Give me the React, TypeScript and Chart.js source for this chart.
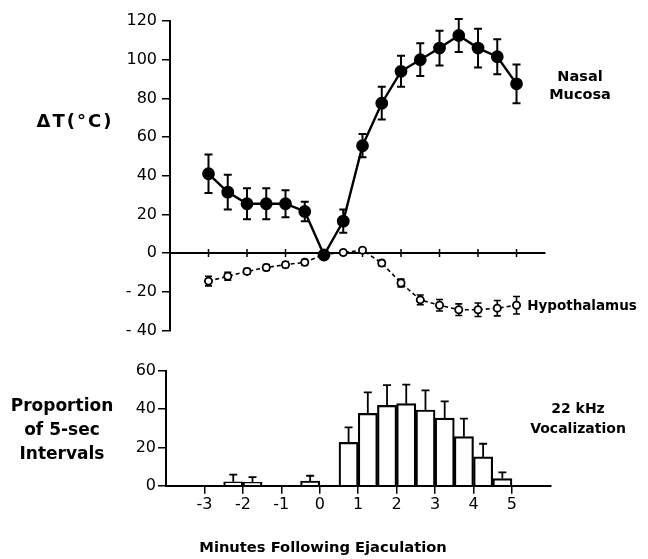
import React, { useEffect, useRef } from 'react';
import { Chart, registerables } from 'chart.js';

Chart.register(...registerables);

// ---------- data ----------
const TIMES = [-3, -2.5, -2, -1.5, -1, -0.5, 0, 0.5, 1, 1.5, 2, 2.5, 3, 3.5, 4, 4.5, 5];
const NASAL = [41, 31.5, 25.5, 25.5, 25.5, 21.5, -1, 16.5, 55.5, 77.5, 94, 100, 106, 112.5, 106, 101.5, 87.5];
const NASAL_ERR = [10, 9, 8, 8, 7, 5, 0, 6, 6, 8.5, 8, 8.5, 9, 8.5, 10, 9, 10];
const HYPO = [-14.5, -12, -9.5, -7.5, -6, -4.8, -0.7, 0.3, 1.5, -5.2, -15.5, -24.2, -27, -29.3, -29.3, -28.5, -27];
const HYPO_ERR = [2.5, 2, 1.5, 1.5, 1.5, 1.5, 1, 1, 1, 1.5, 2, 2.5, 3, 3, 3.5, 4, 4.5];
const BIN_END = [-2, -1.5, 0, 1, 1.5, 2, 2.5, 3, 3.5, 4, 4.5, 5];
const VOCAL = [2, 1.7, 2.4, 22.6, 37.7, 41.9, 42.8, 39.5, 35.3, 25.6, 15, 3.7];
const VOCAL_ERR = [3.8, 2.8, 2.8, 7.8, 11, 10.6, 9.9, 10.2, 8.7, 9.4, 6.9, 3.3];
const X_TICKS = [-3, -2, -1, 0, 1, 2, 3, 4, 5];
const BIN_WIDTH = 0.5;

const FONT = 'DejaVu Sans';

// ---------- plugins ----------
const errorBars = {
  id: 'errorBars',
  beforeDatasetsDraw(chart: any) {
    const ctx = chart.ctx;
    chart.data.datasets.forEach((ds: any, i: number) => {
      const errs = ds.errors;
      if (!errs) return;
      const meta = chart.getDatasetMeta(i);
      const xs = chart.scales[meta.xAxisID];
      const ys = chart.scales[meta.yAxisID];
      ctx.save();
      ctx.strokeStyle = '#000';
      ctx.lineWidth = ds.errLineWidth || 1.8;
      const cap = ds.capHalf || 4;
      ds.data.forEach((p: any, j: number) => {
        const e = errs[j];
        if (!e) return;
        const x = xs.getPixelForValue(p.x);
        const yTop = ys.getPixelForValue(p.y + e);
        const yBot = ys.getPixelForValue(ds.oneSided ? p.y : p.y - e);
        ctx.beginPath();
        ctx.moveTo(x, yTop);
        ctx.lineTo(x, yBot);
        ctx.moveTo(x - cap, yTop);
        ctx.lineTo(x + cap, yTop);
        if (!ds.oneSided) {
          ctx.moveTo(x - cap, yBot);
          ctx.lineTo(x + cap, yBot);
        }
        ctx.stroke();
      });
      ctx.restore();
    });
  },
};

const zeroAxis = {
  id: 'zeroAxis',
  beforeDatasetsDraw(chart: any) {
    const { ctx, chartArea, scales } = chart;
    const xs = scales.x;
    const ys = scales.y;
    const y0 = ys.getPixelForValue(0);
    ctx.save();
    ctx.strokeStyle = '#000';
    ctx.lineWidth = 2;
    ctx.beginPath();
    ctx.moveTo(chartArea.left, y0);
    ctx.lineTo(chartArea.right, y0);
    ctx.stroke();
    ctx.lineWidth = 1.5;
    ctx.beginPath();
    X_TICKS.forEach((v) => {
      const px = xs.getPixelForValue(v);
      ctx.moveTo(px, y0 - 4);
      ctx.lineTo(px, y0 + 4);
    });
    ctx.stroke();
    ctx.restore();
  },
};

const Label = ({ x, y, children, style }: any) => (
  <div
    style={{
      position: 'absolute',
      left: x,
      top: y,
      transform: 'translate(-50%, -50%)',
      whiteSpace: 'nowrap',
      textAlign: 'center',
      fontFamily: FONT,
      color: '#000',
      ...style,
    }}
  >
    {children}
  </div>
);

export default function App() {
  const topRef = useRef<HTMLCanvasElement>(null);
  const botRef = useRef<HTMLCanvasElement>(null);

  useEffect(() => {
    Chart.defaults.font.family = FONT;
    Chart.defaults.color = '#000';

    const top = new Chart(topRef.current as HTMLCanvasElement, {
      type: 'line',
      data: {
        datasets: [
          {
            label: 'Nasal Mucosa',
            data: TIMES.map((t, i) => ({ x: t, y: NASAL[i] })),
            borderColor: '#000',
            borderWidth: 2.4,
            backgroundColor: '#000',
            pointRadius: 5.2,
            pointBackgroundColor: '#000',
            pointBorderColor: '#000',
            tension: 0,
            clip: false,
            errors: NASAL_ERR,
            capHalf: 4,
            errLineWidth: 2,
          } as any,
          {
            label: 'Hypothalamus',
            data: TIMES.map((t, i) => ({ x: t, y: HYPO[i] })),
            borderColor: '#000',
            borderWidth: 1.6,
            borderDash: [4, 3],
            pointRadius: 3.6,
            pointBorderWidth: 1.8,
            pointBackgroundColor: '#fff',
            pointBorderColor: '#000',
            tension: 0,
            clip: false,
            errors: HYPO_ERR,
            capHalf: 3.5,
            errLineWidth: 1.6,
          } as any,
        ],
      },
      options: {
        animation: false,
        responsive: false,
        events: [],
        layout: { padding: { top: 21, bottom: 13.3, left: 0, right: 102.6 } },
        plugins: { legend: { display: false }, tooltip: { enabled: false } },
        scales: {
          x: { type: 'linear', min: -4, max: 5.75, display: false },
          y: {
            type: 'linear',
            min: -40,
            max: 120,
            afterFit: (s: any) => {
              s.width = 170;
            },
            ticks: {
              stepSize: 20,
              font: { size: 16, family: FONT },
              color: '#000',
              padding: 5,
              callback: (v: any) => (Number(v) < 0 ? '- ' + String(-Number(v)) : String(v)),
            },
            grid: { drawOnChartArea: false, drawTicks: true, tickLength: 8, color: '#000', lineWidth: 1.5 },
            border: { display: true, color: '#000', width: 2 },
          },
        },
      },
      plugins: [zeroAxis, errorBars],
    });

    const bot = new Chart(botRef.current as HTMLCanvasElement, {
      type: 'bar',
      data: {
        datasets: [
          {
            label: '22 kHz Vocalization',
            data: BIN_END.map((t, i) => ({ x: t - BIN_WIDTH / 2, y: VOCAL[i] })),
            backgroundColor: '#fff',
            borderColor: '#000',
            borderWidth: 2.2,
            barPercentage: 1,
            categoryPercentage: 1,
            errors: VOCAL_ERR,
            oneSided: true,
            capHalf: 4,
            errLineWidth: 1.8,
          } as any,
        ],
      },
      options: {
        animation: false,
        responsive: false,
        events: [],
        layout: { padding: { top: 25.7, bottom: 0, left: 0, right: 97.6 } },
        plugins: { legend: { display: false }, tooltip: { enabled: false } },
        scales: {
          x: {
            type: 'linear',
            min: -4,
            max: 6,
            offset: false,
            afterBuildTicks: (s: any) => {
              s.ticks = X_TICKS.map((v) => ({ value: v }));
            },
            afterFit: (s: any) => {
              s.height = 73.3;
            },
            ticks: {
              font: { size: 16, family: FONT },
              color: '#000',
              padding: 2,
              maxRotation: 0,
              autoSkip: false,
              callback: (v: any) => String(v),
            },
            grid: { drawOnChartArea: false, drawTicks: true, tickLength: 8, color: '#000', lineWidth: 1.5, offset: false },
            border: { display: true, color: '#000', width: 2 },
          },
          y: {
            type: 'linear',
            min: 0,
            max: 60,
            afterFit: (s: any) => {
              s.width = 166;
            },
            ticks: { stepSize: 20, font: { size: 16, family: FONT }, color: '#000', padding: 2 },
            grid: { drawOnChartArea: false, drawTicks: true, tickLength: 8, color: '#000', lineWidth: 1.5 },
            border: { display: true, color: '#000', width: 2 },
          },
        },
      },
      plugins: [errorBars],
    });

    return () => {
      top.destroy();
      bot.destroy();
    };
  }, []);

  const bold = { fontWeight: 'bold' };
  return (
    <div style={{ position: 'absolute', left: 0, top: 0, width: 648, height: 559, background: '#fff', overflow: 'hidden' }}>
      <canvas ref={topRef} width={648} height={345} style={{ position: 'absolute', left: 0, top: 0, width: 648, height: 345 }} />
      <canvas ref={botRef} width={648} height={214} style={{ position: 'absolute', left: 0, top: 345, width: 648, height: 214 }} />
      <Label x={75} y={120} style={{ ...bold, fontSize: 18, letterSpacing: 2 }}>ΔT(°C)</Label>
      <Label x={580} y={85} style={{ ...bold, fontSize: 14.5, lineHeight: '18px' }}>
        Nasal
        <br />
        Mucosa
      </Label>
      <Label x={582} y={305} style={{ ...bold, fontSize: 13.5 }}>Hypothalamus</Label>
      <Label x={578} y={418} style={{ ...bold, fontSize: 14, lineHeight: '20px' }}>
        22 kHz
        <br />
        Vocalization
      </Label>
      <Label x={62} y={429} style={{ ...bold, fontSize: 17, lineHeight: '24px' }}>
        Proportion
        <br />
        of 5-sec
        <br />
        Intervals
      </Label>
      <Label x={323} y={546} style={{ ...bold, fontSize: 14.7 }}>Minutes Following Ejaculation</Label>
    </div>
  );
}
